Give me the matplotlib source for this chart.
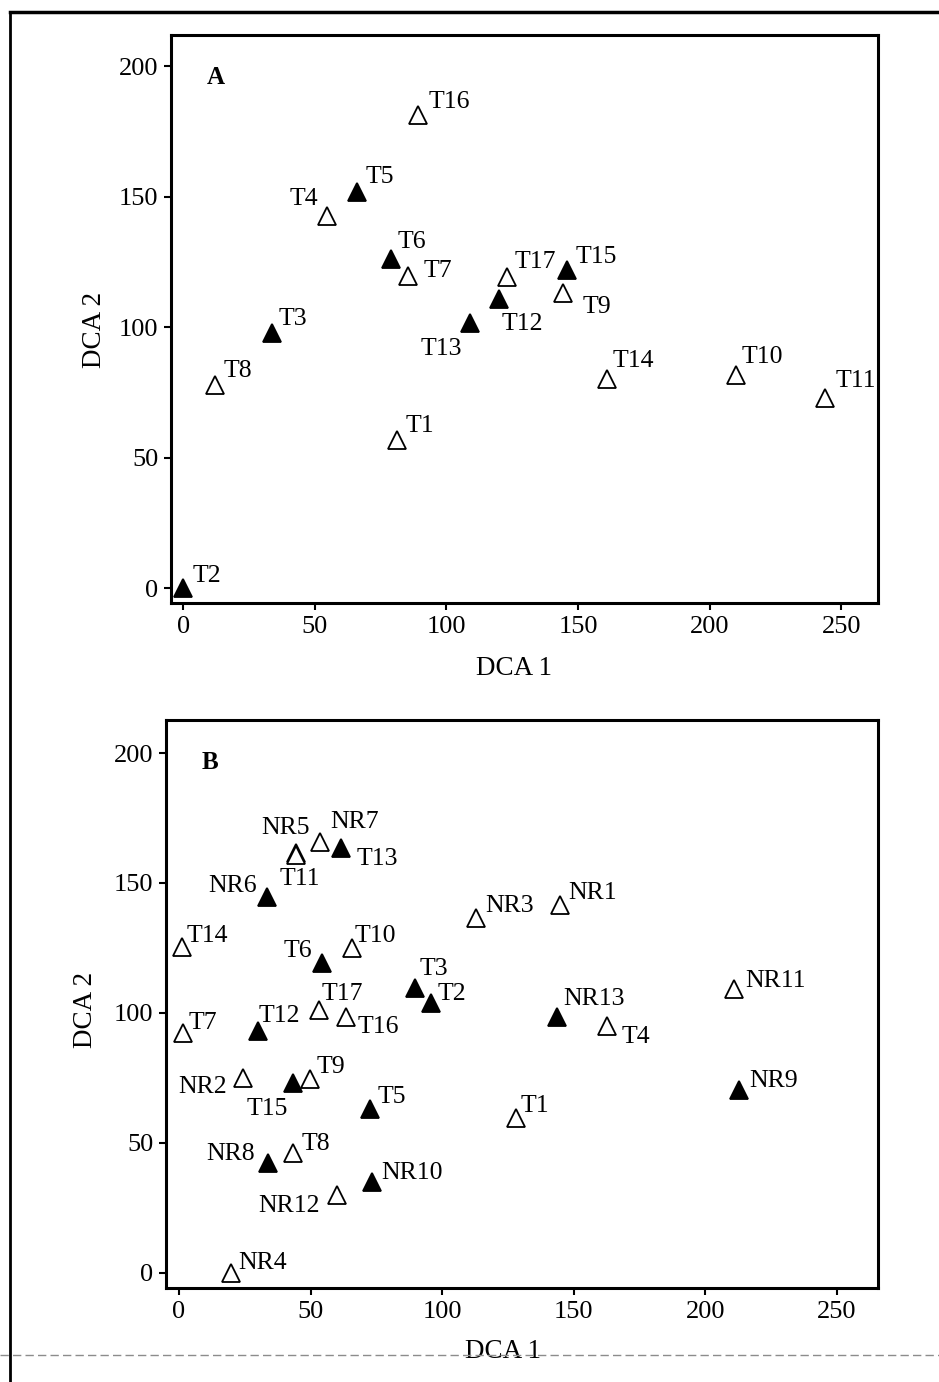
import matplotlib
matplotlib.use("Agg")
import matplotlib.pyplot as plt
from matplotlib.lines import Line2D

plt.rcParams['font.family'] = ['Liberation Serif', 'DejaVu Serif']

#### PANEL A DATA
namesA = ['T1', 'T2', 'T3', 'T4', 'T5', 'T6', 'T7', 'T8', 'T9', 'T10',
          'T11', 'T12', 'T13', 'T14', 'T15', 'T16', 'T17']
xA = [81.3, 0, 33.8, 54.7, 66.1, 79, 85.5, 12.2, 144.4, 210,
      244, 120, 109, 161, 145.9, 89.3, 123]
yA = [56.7, 0, 97.7, 142.5, 151.7, 126, 119.5, 78, 113, 81.6,
      72.8, 110.7, 101.5, 80, 122, 181.2, 119.2]
filledA = [0, 1, 1, 0, 1, 1, 0, 0, 0, 0,
           0, 1, 1, 0, 1, 0, 0]

#### PANEL B DATA
namesB = ['NR1', 'NR2', 'NR3', 'NR4', 'NR5', 'NR6', 'NR7', 'NR8', 'NR9', 'NR10',
          'NR11', 'NR12', 'NR13',
          'T1', 'T2', 'T3', 'T4', 'T5', 'T6', 'T7', 'T8', 'T9', 'T10',
          'T11', 'T12', 'T13', 'T14', 'T15', 'T16', 'T17']
xB = [144.8, 24.3, 112.8, 19.8, 44.4, 33.4, 53.6, 33.8, 212.8, 73.3,
      210.9, 60, 143.6,
      128, 95.7, 89.7, 162.6, 72.6, 54.3, 1.5, 43.3, 49.8, 65.7,
      44.4, 30, 61.5, 1.1, 43.3, 63.4, 53.2]
yB = [141.5, 75, 136.5, 0, 161.5, 144.6, 165.8, 42.3, 70.4, 35,
      109.2, 30, 98.5,
      59.6, 103.8, 109.6, 95, 63, 119.2, 92.3, 46.2, 74.6, 125,
      160.8, 93, 163.5, 125.4, 73, 98.5, 101.2]
filledB = [0, 0, 0, 0, 1, 1, 0, 1, 1, 1,
           0, 0, 1,
           0, 1, 1, 0, 1, 1, 0, 0, 0, 0,
           0, 1, 1, 0, 1, 0, 0]

#### LABEL PLACEMENT (pixel offsets from marker, horizontal alignment)
offA = [(8, 8, 'left'), (9, 6, 'left'), (6, 8, 'left'), (-9, 11, 'right'),
        (8, 9, 'left'), (7, 11, 'left'), (15, -1, 'left'), (8, 8, 'left'),
        (19, -20, 'left'), (6, 12, 'left'), (10, 11, 'left'), (3, -31, 'left'),
        (-8, -32, 'right'), (6, 12, 'left'), (8, 7, 'left'), (10, 7, 'left'),
        (8, 9, 'left')]
offB = [(8, 6, 'left'), (-16, -15, 'right'), (9, 6, 'left'), (7, 4, 'left'),
        (14, 19, 'right'), (-10, 5, 'right'), (10, 14, 'left'), (-13, 3, 'right'),
        (10, 3, 'left'), (9, 3, 'left'), (11, 2, 'left'), (-17, -17, 'right'),
        (6, 12, 'left'),
        (5, 6, 'left'), (7, 3, 'left'), (5, 13, 'left'), (15, -17, 'left'),
        (8, 6, 'left'), (-10, 6, 'right'), (6, 4, 'left'), (9, 3, 'left'),
        (7, 6, 'left'), (3, 6, 'left'), (-16, -30, 'left'), (1, 9, 'left'),
        (16, -17, 'left'), (5, 5, 'left'), (-5, -32, 'right'), (12, -16, 'left'),
        (3, 10, 'left')]


def drawPanel(ax, names, xs, ys, filled, offs, letter, xlim, ylim, xlab, ylab):
    for n, x, y, f, o in zip(names, xs, ys, filled, offs):
        ax.plot(x, y, marker='^', markersize=13, linestyle='none',
                markerfacecolor='black' if f else 'white',
                markeredgecolor='black', markeredgewidth=1.3, zorder=3)
        ax.annotate(n, (x, y), xytext=(o[0], o[1]), textcoords='offset pixels',
                    ha=o[2], va='baseline', fontsize=18.5)
    ax.set_xlim(xlim)
    ax.set_ylim(ylim)
    ax.set_xticks([0, 50, 100, 150, 200, 250])
    ax.set_yticks([0, 50, 100, 150, 200])
    ax.tick_params(direction='out', length=5, width=1.5, labelsize=19, pad=4,
                   top=False, right=False)
    for s in ax.spines.values():
        s.set_linewidth(2.2)
    ax.set_xlabel('DCA 1', fontsize=19.5)
    ax.set_ylabel('DCA 2', fontsize=19.5)
    ax.xaxis.set_label_coords(xlab[0], xlab[1])
    ax.yaxis.set_label_coords(ylab[0], ylab[1])
    ax.text(0.05, 0.925, letter, transform=ax.transAxes, fontsize=18,
            fontweight='bold', va='center', ha='left')


fig = plt.figure(figsize=(9.39, 13.82), dpi=100)
axA = fig.add_axes([171/939, 1-603/1382, 707/939, 568/1382])
axB = fig.add_axes([166/939, 1-1288/1382, 712/939, 568/1382])

drawPanel(axA, namesA, xA, yA, filledA, offA, 'A', (-4.6, 264), (-5.7, 212),
          (0.485, -0.093), (-0.09, 0.48))
drawPanel(axB, namesB, xB, yB, filledB, offB, 'B', (-4.9, 265.6), (-5.8, 212.7),
          (0.473, -0.09), (-0.095, 0.49))

# scan frame
fig.add_artist(Line2D([10/939, 1], [1-12/1382, 1-12/1382], color='black', linewidth=2.5))
fig.add_artist(Line2D([10/939, 10/939], [0, 1-12/1382], color='black', linewidth=2))
fig.add_artist(Line2D([0, 1], [1-1355/1382, 1-1355/1382], color='0.55',
                      linewidth=1, linestyle=(0, (6, 3))))

plt.savefig('out.png', dpi=100)
